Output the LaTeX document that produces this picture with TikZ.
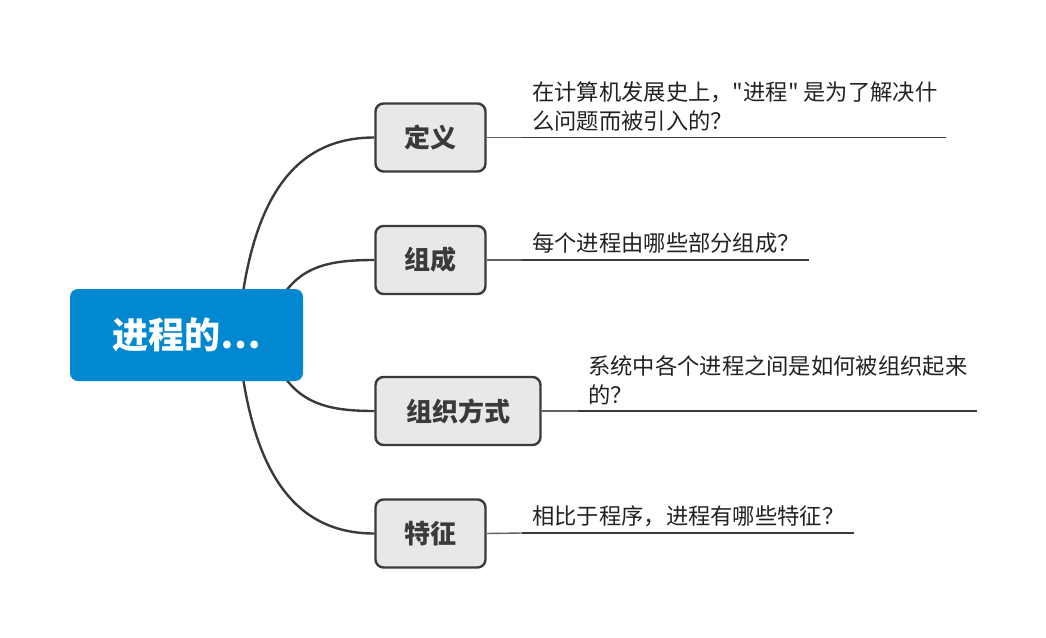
\documentclass[tikz,border=0pt]{standalone}
\usepackage{fontspec}
\newfontfamily\cjk{Noto Sans CJK SC}
\usetikzlibrary{calc,backgrounds}
\definecolor{rootblue}{HTML}{0288D1}
\definecolor{boxfill}{HTML}{E8E8E8}
\definecolor{boxline}{HTML}{3A3A3A}
\definecolor{leaftext}{HTML}{222222}
\tikzset{
  rootbox/.style={fill=rootblue, rounded corners=8pt, minimum width=233pt, minimum height=92pt,
    text=white, inner sep=0pt, font=\cjk\bfseries\fontsize{36}{42}\selectfont},
  topicbox/.style={fill=boxfill, draw=boxline, line width=2.4pt, rounded corners=8pt,
    minimum height=68pt, inner sep=0pt, text=boxline, font=\cjk\bfseries\fontsize{26}{30}\selectfont},
  branch/.style={draw=boxline, line width=2.4pt},
  stub/.style={draw=boxline!80, line width=1.4pt},
  uline/.style={draw=boxline, line width=1.8pt},
  leaf/.style={anchor=south west, inner sep=0pt, align=left, text=leaftext,
    font=\cjk\fontsize{22.3}{28.5}\selectfont}
}
\begin{document}
\begin{tikzpicture}[x=1pt,y=-1pt]
\useasboundingbox (0,0) rectangle (1046,637);
\node[rootbox] (root) at (186.5,335) {进程的…};
\node[topicbox, minimum width=110pt] (def) at (430.5,137.5) {定义};
\node[topicbox, minimum width=110pt] (comp) at (430.5,260) {组成};
\node[topicbox, minimum width=165pt] (org) at (458,411) {组织方式};
\node[topicbox, minimum width=110pt] (feat) at (430.5,533.5) {特征};
\begin{pgfonlayer}{background}
\draw[branch] ($(root.center)+(51.5,0)$) .. controls +(12,-145) and +(-75,0) .. (def.west);
\draw[branch] ($(root.center)+(93.5,-35)$) .. controls +(20,-34) and +(-45,0) .. (comp.west);
\draw[branch] ($(root.center)+(93.5,35)$) .. controls +(20,34) and +(-45,0) .. (org.west);
\draw[branch] ($(root.center)+(51.5,0)$) .. controls +(12,145) and +(-75,0) .. (feat.west);
\end{pgfonlayer}
% leaf lines
\coordinate (defL) at (522,137.5);
\coordinate (defR) at (946,137.5);
\coordinate (compL) at (522,260);
\coordinate (compR) at (809,260);
\coordinate (orgL) at (578,411);
\coordinate (orgR) at (977,411);
\coordinate (featL) at (522,533);
\coordinate (featR) at (854,533);
\draw[stub] (def.east) -- (defL);
\draw[uline] (defL) -- (defR);
\draw[stub] (comp.east) -- (compL);
\draw[uline] (compL) -- (compR);
\draw[stub] (org.east) -- (orgL);
\draw[uline] (orgL) -- (orgR);
\draw[stub] (feat.east) -- (featL);
\draw[uline] (featL) -- (featR);
% leaf texts
\node[leaf] (defT) at (532,131) {在计算机发展史上，"进程" 是为了解决什\\么问题而被引入的？};
\node[leaf] (compT) at (532,254) {每个进程由哪些部分组成？};
\node[leaf] (orgT) at (588,405) {系统中各个进程之间是如何被组织起来\\的？};
\node[leaf] (featT) at (532,527) {相比于程序，进程有哪些特征？};
\end{tikzpicture}
\end{document}
